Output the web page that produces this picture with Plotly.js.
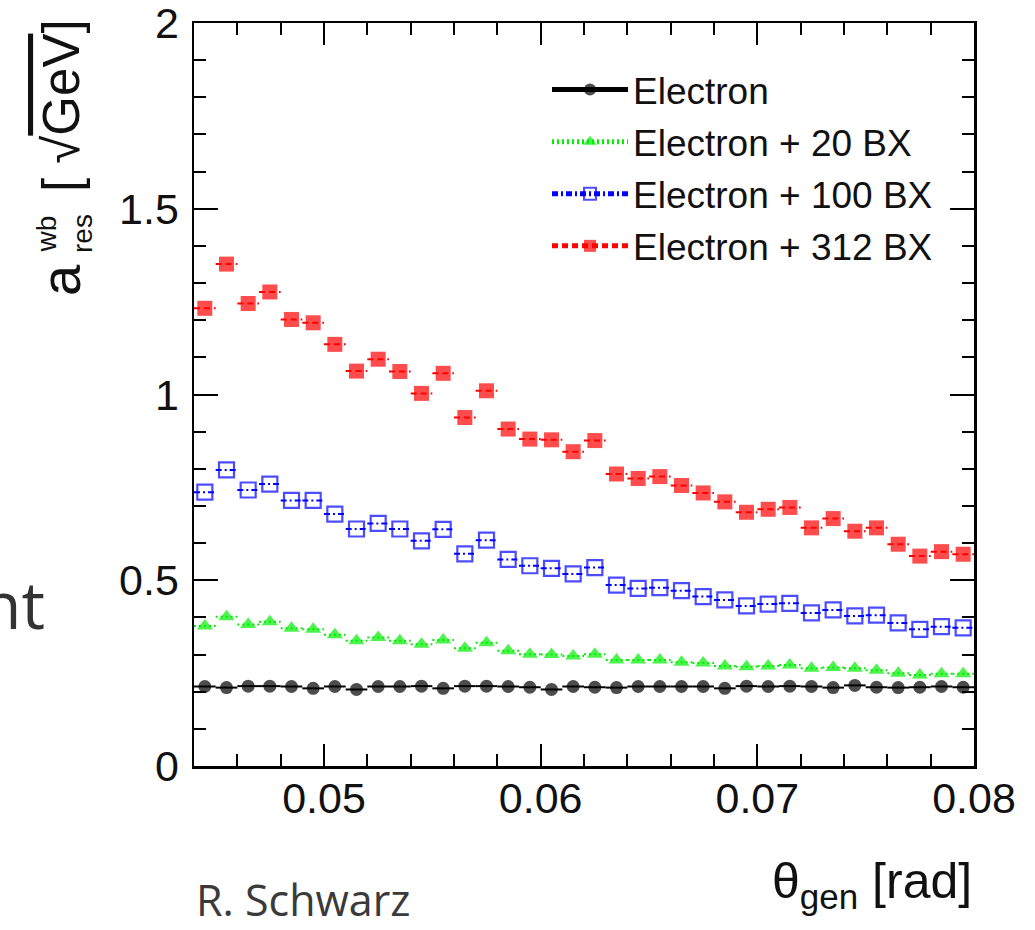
<!DOCTYPE html>
<html>
<head>
<meta charset="utf-8">
<script src="https://cdn.plot.ly/plotly-3.0.1.min.js"></script>
<style>html,body{margin:0;padding:0;background:#fff;}#chart{width:1035px;height:930px;}</style>
</head>
<body>
<div id="chart"></div>
<script>
// bin centres of theta_gen [rad]
const thetaGen = [0.0445,0.0455,0.0465,0.0475,0.0485,0.0495,0.0505,0.0515,0.0525,0.0535,0.0545,0.0555,
  0.0565,0.0575,0.0585,0.0595,0.0605,0.0615,0.0625,0.0635,0.0645,0.0655,0.0665,0.0675,
  0.0685,0.0695,0.0705,0.0715,0.0725,0.0735,0.0745,0.0755,0.0765,0.0775,0.0785,0.0795];
const binHalfWidth = 0.0005;

const seriesNames = ["Electron","Electron + 20 BX","Electron + 100 BX","Electron + 312 BX"];

const electron = [0.214,0.211,0.215,0.215,0.214,0.209,0.214,0.206,0.214,0.214,0.215,0.209,
  0.215,0.215,0.214,0.212,0.206,0.214,0.212,0.211,0.214,0.214,0.214,0.214,
  0.209,0.215,0.214,0.215,0.214,0.211,0.217,0.212,0.211,0.212,0.214,0.212];

const electron20BX = [0.377,0.402,0.381,0.388,0.371,0.368,0.353,0.337,0.346,0.337,0.328,0.339,
  0.317,0.332,0.310,0.301,0.300,0.296,0.301,0.285,0.285,0.285,0.279,0.277,
  0.269,0.267,0.269,0.272,0.263,0.265,0.263,0.258,0.250,0.245,0.248,0.248];

const electron100BX = [0.737,0.797,0.743,0.759,0.715,0.715,0.678,0.638,0.653,0.638,0.606,0.637,
  0.571,0.608,0.556,0.539,0.532,0.517,0.534,0.487,0.478,0.480,0.472,0.456,
  0.447,0.431,0.436,0.438,0.412,0.420,0.404,0.406,0.385,0.368,0.375,0.372];

const electron312BX = [1.232,1.351,1.245,1.276,1.202,1.193,1.135,1.063,1.095,1.062,1.003,1.057,
  0.938,1.010,0.907,0.880,0.878,0.846,0.876,0.786,0.774,0.779,0.755,0.735,
  0.711,0.683,0.691,0.696,0.641,0.666,0.632,0.641,0.597,0.565,0.577,0.570];

const xTickVals = [0.05,0.06,0.07,0.08];
const xTickText = ["0.05","0.06","0.07","0.08"];
const yTickVals = [0,0.5,1,1.5,2];
const yTickText = ["0","0.5","1","1.5","2"];

// histogram-like trace: marker at bin centre + horizontal bar over the bin
function binTrace(name, vals, color, symbol, size, dash, lineW, markerLine) {
  const xs = [], ys = [], ss = [];
  for (let i = 0; i < thetaGen.length; i++) {
    xs.push(thetaGen[i] - binHalfWidth, thetaGen[i], thetaGen[i] + binHalfWidth, null);
    ys.push(vals[i], vals[i], vals[i], null);
    ss.push(0, size, 0, 0);
  }
  return {
    type: 'scatter', mode: 'lines+markers', name: name, x: xs, y: ys,
    line: {color: color, width: lineW, dash: dash},
    marker: {symbol: symbol, size: ss, color: color, line: markerLine},
    legendgroup: name, hoverinfo: 'skip'
  };
}

const traces = [
  binTrace(seriesNames[0], electron, '#000000', 'circle', 13, 'solid', 2, {width: 0}),
  binTrace(seriesNames[1], electron20BX, '#00ee00', 'triangle-up', 14, '2px,3px', 2, {width: 0}),
  binTrace(seriesNames[2], electron100BX, '#0000ff', 'square-open', 15, '6px,3px,2px,3px', 2, {width: 2.2, color: '#0000ff'}),
  binTrace(seriesNames[3], electron312BX, '#ff0000', 'square', 15, '6px,4px', 2, {width: 0})
];

const tickFont = {family: 'Liberation Sans, Arial, sans-serif', size: 43, color: '#111'};
const axisLine = {showline: true, linecolor: '#000', linewidth: 2.5, mirror: 'allticks',
  ticks: 'inside', tickcolor: '#000', tickwidth: 2, showgrid: false, zeroline: false,
  ticklabeloverflow: 'allow'};

function px2x(px) { return (px - 194) / 780; }
function py2y(py) { return (766 - py) / 743; }

const layout = {
  width: 1035, height: 930,
  margin: {l: 194, r: 61, t: 23, b: 164, pad: 0},
  paper_bgcolor: '#fff', plot_bgcolor: '#fff',
  showlegend: true,
  legend: {x: px2x(547), y: py2y(59), xanchor: 'left', yanchor: 'top',
    bgcolor: 'rgba(0,0,0,0)', borderwidth: 0, itemsizing: 'constant', itemwidth: 76,
    tracegroupgap: 1,
    font: {family: 'Liberation Sans, Arial, sans-serif', size: 37, color: '#111'}},
  xaxis: Object.assign({}, axisLine, {
    range: [0.044, 0.08], tickmode: 'array', tickvals: xTickVals, ticktext: xTickText,
    ticklen: 22, tickfont: tickFont, ticklabelstandoff: -7,
    minor: {dtick: 0.002, tick0: 0.044, ticks: 'inside', ticklen: 12, tickwidth: 2, tickcolor: '#000', showgrid: false}
  }),
  yaxis: Object.assign({}, axisLine, {
    range: [0, 2], tickmode: 'array', tickvals: yTickVals, ticktext: yTickText,
    ticklen: 24, tickfont: tickFont, ticklabelstandoff: 4,
    minor: {dtick: 0.1, tick0: 0, ticks: 'inside', ticklen: 12, tickwidth: 2, tickcolor: '#000', showgrid: false}
  }),
  annotations: [
    {text: 'a', xref: 'paper', yref: 'paper', x: px2x(60), y: py2y(280), textangle: -90,
     showarrow: false, xanchor: 'center', yanchor: 'middle',
     font: {family: 'Liberation Sans, Arial, sans-serif', size: 56, color: '#111'}},
    {text: 'wb<br>res', xref: 'paper', yref: 'paper', x: px2x(64), y: py2y(234), textangle: -90,
     showarrow: false, xanchor: 'center', yanchor: 'middle', align: 'center',
     font: {family: 'Liberation Sans, Arial, sans-serif', size: 28, color: '#111'}},
    {text: '[ √<span style="text-decoration:overline">GeV</span>]', xref: 'paper', yref: 'paper',
     x: px2x(62), y: py2y(106), textangle: -90,
     showarrow: false, xanchor: 'center', yanchor: 'middle',
     font: {family: 'Liberation Sans, Arial, sans-serif', size: 51, color: '#111'}},
    {text: 'θ<sub>gen</sub> [rad]', xref: 'paper', yref: 'paper', x: px2x(974), y: py2y(885),
     showarrow: false, xanchor: 'right', yanchor: 'middle',
     font: {family: 'Liberation Sans, Arial, sans-serif', size: 50, color: '#111'}},
    {text: 'R. Schwarz', xref: 'paper', yref: 'paper', x: px2x(194), y: py2y(900),
     showarrow: false, xanchor: 'left', yanchor: 'middle',
     font: {family: 'Open Sans, sans-serif', size: 43, color: '#3a3a3a'}},
    {text: 'nt', xref: 'paper', yref: 'paper', x: px2x(47), y: py2y(603),
     showarrow: false, xanchor: 'right', yanchor: 'middle',
     font: {family: 'Open Sans, sans-serif', size: 66, color: '#333'}}
  ]
};

Plotly.newPlot('chart', traces, layout, {displayModeBar: false, staticPlot: true});
</script>
</body>
</html>
